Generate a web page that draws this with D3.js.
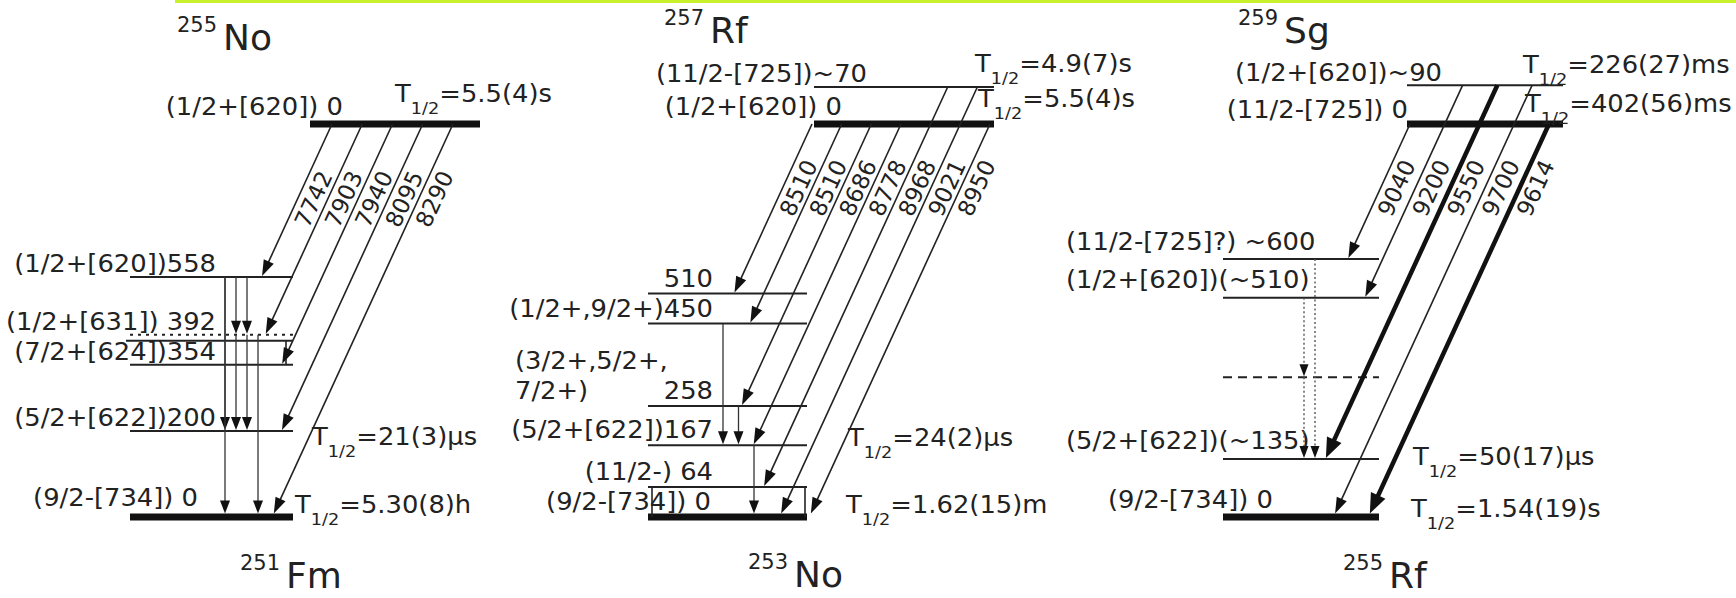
<!DOCTYPE html>
<html>
<head>
<meta charset="utf-8">
<script src="https://cdn.jsdelivr.net/npm/d3@7/dist/d3.min.js"></script>
<style>
  html, body { margin: 0; padding: 0; background: #ffffff; }
  svg { display: block; font-family: "DejaVu Sans", Verdana, sans-serif; }
</style>
</head>
<body>
<svg id="chart" width="1736" height="598"></svg>
<script>
// ===== Nuclides (mass number, element) =====
const parentNuclides   = [["255", "No"], ["257", "Rf"], ["259", "Sg"]];
const daughterNuclides = [["251", "Fm"], ["253", "No"], ["255", "Rf"]];

// ===== 255No -> 251Fm =====
const no255Levels = [
  { E: 0, jp: "(1/2+[620])", tag: "   0", t12: "5.5(4)s" }
];
const fm251Levels = [
  { E: 0,   jp: "(9/2-[734])", tag: "  0",  t12: "5.30(8)h" },
  { E: 200, jp: "(5/2+[622])", tag: "200",  t12: "21(3)μs" },
  { E: 354, jp: "(7/2+[624])", tag: "354" },
  { E: 392, jp: "(1/2+[631])", tag: " 392", tentative: true },
  { E: 558, jp: "(1/2+[620])", tag: "558" }
];
const no255Alphas = [
  { Ea: 7742, from: 0, to: 558 },
  { Ea: 7903, from: 0, to: 392 },
  { Ea: 7940, from: 0, to: 354 },
  { Ea: 8095, from: 0, to: 200 },
  { Ea: 8290, from: 0, to: 0 }
];
const fm251Gammas = [
  { from: 558, to: 200, col: 0 }, { from: 558, to: 0, col: 0 },
  { from: 558, to: 392, col: 1 }, { from: 392, to: 200, col: 1 },
  { from: 558, to: 392, col: 2 }, { from: 392, to: 200, col: 2 },
  { from: 392, to: 0, col: 3 }
];

// ===== 257Rf -> 253No =====
const rf257Levels = [
  { E: 0,  jp: "(1/2+[620])",  tag: "  0", t12: "5.5(4)s" },
  { E: 70, jp: "(11/2-[725])", tag: "~70", t12: "4.9(7)s" }
];
const no253Levels = [
  { E: 0,   jp: "(9/2-[734])", tag: "    0", t12: "1.62(15)m" },
  { E: 64,  jp: "(11/2-)",     tag: " 64" },
  { E: 167, jp: "(5/2+[622])", tag: "167", t12: "24(2)μs" },
  { E: 258, jp: ["(3/2+,5/2+,", "7/2+)"], tag: "258" },
  { E: 450, jp: "(1/2+,9/2+)", tag: "450" },
  { E: 510, jp: "",            tag: "510" }
];
const rf257Alphas = [
  { Ea: 8510, from: 0,  to: 510 },
  { Ea: 8510, from: 0,  to: 450 },
  { Ea: 8686, from: 0,  to: 258 },
  { Ea: 8778, from: 0,  to: 167 },
  { Ea: 8968, from: 70, to: 64 },
  { Ea: 9021, from: 70, to: 0 },
  { Ea: 8950, from: 0,  to: 0 }
];
const no253Gammas = [
  { from: 450, to: 167, col: 0 },
  { from: 258, to: 167, col: 1 },
  { from: 167, to: 0,   col: 2 }
];

// ===== 259Sg -> 255Rf =====
const sg259Levels = [
  { E: 0,  jp: "(11/2-[725])", tag: " 0",  t12: "402(56)ms" },
  { E: 90, jp: "(1/2+[620])",  tag: "~90", t12: "226(27)ms" }
];
const rf255Levels = [
  { E: 0,   jp: "(9/2-[734])",   tag: " 0",     t12: "1.54(19)s" },
  { E: 135, jp: "(5/2+[622])",   tag: "(~135)", t12: "50(17)μs" },
  { E: 325, jp: "",              tag: "",       unassigned: true },
  { E: 510, jp: "(1/2+[620])",   tag: "(~510)" },
  { E: 600, jp: "(11/2-[725]?)", tag: " ~600" }
];
const sg259Alphas = [
  { Ea: 9040, from: 0,  to: 600 },
  { Ea: 9200, from: 90, to: 510 },
  { Ea: 9550, from: 90, to: 135, strong: true },
  { Ea: 9700, from: 90, to: 0 },
  { Ea: 9614, from: 0,  to: 0,   strong: true }
];
const rf255Gammas = [
  { from: 510, to: 325, col: 0 },
  { from: 325, to: 135, col: 0 },
  { from: 600, to: 135, col: 1 }
];

// ===== Layout of the three decay schemes =====
const panels = [
  {
    parent: no255Levels, daughter: fm251Levels, alphas: no255Alphas, gammas: fm251Gammas,
    parentX: [310, 480], daughterX: [130, 293], cross: [332, 453], gammaX: [225, 258],
    alphaLabelY: 199, parentTitle: [177, 50], daughterTitle: [240, 588],
    parentLabel: { 0: [343, -9] },
    daughterLabel: { anchor: "end", x: 216, dy: -5, groundX: 198, groundDy: -11 },
    halfLife: { p0: [395, -22], d200: [312, 14], d0: [295, -4] },
    boxes: [{ upper: 392, lower: 354, topLine: true, sides: [286] }],
    gammaStyle: "solid"
  },
  {
    parent: rf257Levels, daughter: no253Levels, alphas: rf257Alphas, gammas: no253Gammas,
    parentX: [814, 994], daughterX: [648, 807], cross: [812, 990], gammaX: [723, 754],
    alphaLabelY: 188, parentTitle: [664, 43], daughterTitle: [748, 587],
    parentLabel: { 0: [842, -9], 70: [867, -5] },
    daughterLabel: { anchor: "end", x: 713, dy: -7, groundX: 711, groundDy: -7, wrapX: 515, wrapLead: 30 },
    halfLife: { p70: [975, -15], p0: [978, -17], d167: [848, 1], d0: [846, -4] },
    boxes: [{ upper: 64, lower: 0, topLine: false, sides: [652, 805] }],
    gammaStyle: "solid"
  },
  {
    parent: sg259Levels, daughter: rf255Levels, alphas: sg259Alphas, gammas: rf255Gammas,
    parentX: [1407, 1563], daughterX: [1223, 1379], cross: [1410, 1549], gammaX: [1304, 1315],
    alphaLabelY: 188, parentTitle: [1238, 43], daughterTitle: [1343, 588],
    parentLabel: { 0: [1408, -6], 90: [1442, -4] },
    daughterLabel: { anchor: "start", x: 1066, dy: -9.5, groundX: 1108, groundDy: -9 },
    halfLife: { p90: [1523, -12], p0: [1525, -12], d135: [1413, 6], d0: [1411, 0] },
    boxes: [],
    gammaStyle: "dotted"
  }
];

// Energy scales (keV -> y). Levels closer than the minimum gap are pushed apart.
const yParent   = d3.scaleLinear().domain([0, 100]).range([124, 81]);
const yDaughter = d3.scaleLinear().domain([0, 600]).range([517, 259]);

const FS = 24;                   // label font size
const SX = 1.075;                // glyph widening of the label font
const SLOPE = 0.46;              // horizontal run per pixel of drop on α lines
const ANGLE = -Math.atan2(1, SLOPE) * 180 / Math.PI;
const INK = "#222";

function placeLevels(levels, scale, minGap) {
  const pos = new Map();
  let prev = null;
  levels.slice().sort((a, b) => a.E - b.E).forEach(l => {
    let y = scale(l.E);
    if (prev !== null && prev - y < minGap) y = prev - minGap;
    pos.set(l.E, y);
    prev = y;
  });
  return pos;
}

function arrowhead(g, x1, y1, x2, y2, len, hw) {
  const L = Math.hypot(x2 - x1, y2 - y1), ux = (x2 - x1) / L, uy = (y2 - y1) / L;
  const bx = x2 - ux * len, by = y2 - uy * len, px = -uy, py = ux;
  g.append("path")
    .attr("d", `M${x2},${y2}L${bx + px * hw},${by + py * hw}L${bx - px * hw},${by - py * hw}Z`)
    .attr("fill", "#111");
}

function label(g, x, y, str, anchor) {
  return g.append("text")
    .attr("transform", `translate(${x},${y}) scale(${SX},1)`)
    .attr("text-anchor", anchor)
    .attr("font-size", FS)
    .attr("fill", INK)
    .text(str);
}

function halfLifeLabel(g, x, y, value) {
  const t = g.append("text")
    .attr("transform", `translate(${x},${y}) scale(${SX},1)`)
    .attr("font-size", FS).attr("fill", INK);
  t.append("tspan").text("T");
  t.append("tspan").attr("font-size", 16.5).attr("dy", 12).text("1/2");
  t.append("tspan").attr("dy", -12).text("=" + value);
}

function nuclideTitle(g, pos, nuc) {
  const t = g.append("text").attr("x", pos[0]).attr("y", pos[1]).attr("fill", INK);
  t.append("tspan").attr("font-size", 21).attr("dy", -18).text(nuc[0]);
  t.append("tspan").attr("font-size", 36).attr("dy", 18).attr("dx", 6).text(nuc[1]);
}

function levelLine(g, x1, x2, y, kind) {
  const l = g.append("line")
    .attr("x1", x1).attr("x2", x2).attr("y1", y).attr("y2", y)
    .attr("stroke", INK);
  if (kind === "ground") l.attr("stroke-width", 7).attr("stroke", "#111");
  else if (kind === "dotted") l.attr("stroke-width", 2).attr("stroke-dasharray", "3,5");
  else if (kind === "dashed") l.attr("stroke-width", 2).attr("stroke-dasharray", "9,6");
  else l.attr("stroke-width", 2);
}

const svg = d3.select("#chart");

// header rule
svg.append("rect").attr("x", 175).attr("y", 0).attr("width", 1736 - 175).attr("height", 3)
  .attr("fill", "#c8f02c");

panels.forEach((p, i) => {
  const g = svg.append("g");
  const yP = placeLevels(p.parent, yParent, 37);
  const yD = placeLevels(p.daughter, yDaughter, 30);
  const yGround = yP.get(0);

  // titles
  nuclideTitle(g, p.parentTitle, parentNuclides[i]);
  nuclideTitle(g, p.daughterTitle, daughterNuclides[i]);

  // parent levels
  p.parent.forEach(l => {
    const y = yP.get(l.E);
    levelLine(g, p.parentX[0], p.parentX[1], y, l.E === 0 ? "ground" : "level");
    const pl = p.parentLabel[l.E];
    label(g, pl[0], y + pl[1], l.jp + l.tag, "end");
    if (l.t12) {
      const h = p.halfLife["p" + l.E];
      halfLifeLabel(g, h[0], y + h[1], l.t12);
    }
  });

  // daughter levels
  const dl = p.daughterLabel;
  p.daughter.forEach(l => {
    const y = yD.get(l.E);
    const kind = l.E === 0 ? "ground" : l.tentative ? "dotted" : l.unassigned ? "dashed" : "level";
    levelLine(g, p.daughterX[0], p.daughterX[1], y, kind);
    if (l.unassigned) return;
    if (Array.isArray(l.jp)) {
      l.jp.forEach((line, k) => {
        label(g, dl.wrapX, y + dl.dy - (l.jp.length - 1 - k) * dl.wrapLead, line, "start");
      });
      label(g, dl.x, y + dl.dy, l.tag, "end");
    } else if (l.E === 0) {
      label(g, dl.groundX, y + dl.groundDy, l.jp + l.tag, dl.anchor);
    } else {
      label(g, dl.x, y + dl.dy, l.jp + l.tag, dl.anchor);
    }
    if (l.t12) {
      const h = p.halfLife["d" + l.E];
      halfLifeLabel(g, h[0], y + h[1], l.t12);
    }
  });

  // closely spaced level pairs drawn as a box
  p.boxes.forEach(b => {
    const yTop = yD.get(b.upper) + (b.topLine ? 6 : 0), yBot = yD.get(b.lower);
    if (b.topLine) {
      g.append("line").attr("x1", p.daughterX[0] - 4).attr("x2", p.daughterX[1])
        .attr("y1", yTop).attr("y2", yTop).attr("stroke", INK).attr("stroke-width", 2);
    }
    b.sides.forEach(x => {
      g.append("line").attr("x1", x).attr("x2", x).attr("y1", yTop).attr("y2", yBot)
        .attr("stroke", INK).attr("stroke-width", 1.6);
    });
  });

  // gamma transitions (vertical)
  const gx = d3.scalePoint().domain(d3.range(d3.max(p.gammas, d => d.col) + 1)).range(p.gammaX);
  p.gammas.forEach(t => {
    const x = gx(t.col), y1 = yD.get(t.from), y2 = yD.get(t.to) - (t.to === 0 ? 3.5 : 1);
    const dotted = p.gammaStyle === "dotted";
    g.append("line").attr("x1", x).attr("x2", x).attr("y1", y1).attr("y2", y2 - 8)
      .attr("stroke", dotted ? "#555" : "#333")
      .attr("stroke-width", dotted ? 1.4 : 1.3)
      .attr("stroke-dasharray", dotted ? "2,2.5" : null);
    arrowhead(g, x, y1, x, y2, dotted ? 12 : 13, dotted ? 4.5 : 5);
  });

  // alpha transitions
  const cx = d3.scalePoint().domain(d3.range(p.alphas.length)).range(p.cross);
  p.alphas.forEach((a, k) => {
    const xc = cx(k);
    const xAt = y => xc - SLOPE * (y - yGround);
    const y1 = yP.get(a.from);
    const y2 = yD.get(a.to) - (a.to === 0 ? 3.5 : 1);
    const len = a.strong ? 20 : 16, hw = a.strong ? 8 : 5.5;
    const x1 = xAt(y1), x2 = xAt(y2);
    const L = Math.hypot(x2 - x1, y2 - y1);
    g.append("line")
      .attr("x1", x1).attr("y1", y1)
      .attr("x2", x2 - (x2 - x1) / L * (len - 4)).attr("y2", y2 - (y2 - y1) / L * (len - 4))
      .attr("stroke", a.strong ? "#111" : INK)
      .attr("stroke-width", a.strong ? 4.5 : 1.6);
    arrowhead(g, x1, y1, x2, y2, len, hw);
    const ly = p.alphaLabelY;
    g.append("text")
      .attr("transform", `translate(${xAt(ly) + 16},${ly}) rotate(${ANGLE})`)
      .attr("text-anchor", "middle").attr("dominant-baseline", "central")
      .attr("font-size", 23).attr("fill", INK)
      .text(a.Ea);
  });
});
</script>
</body>
</html>
